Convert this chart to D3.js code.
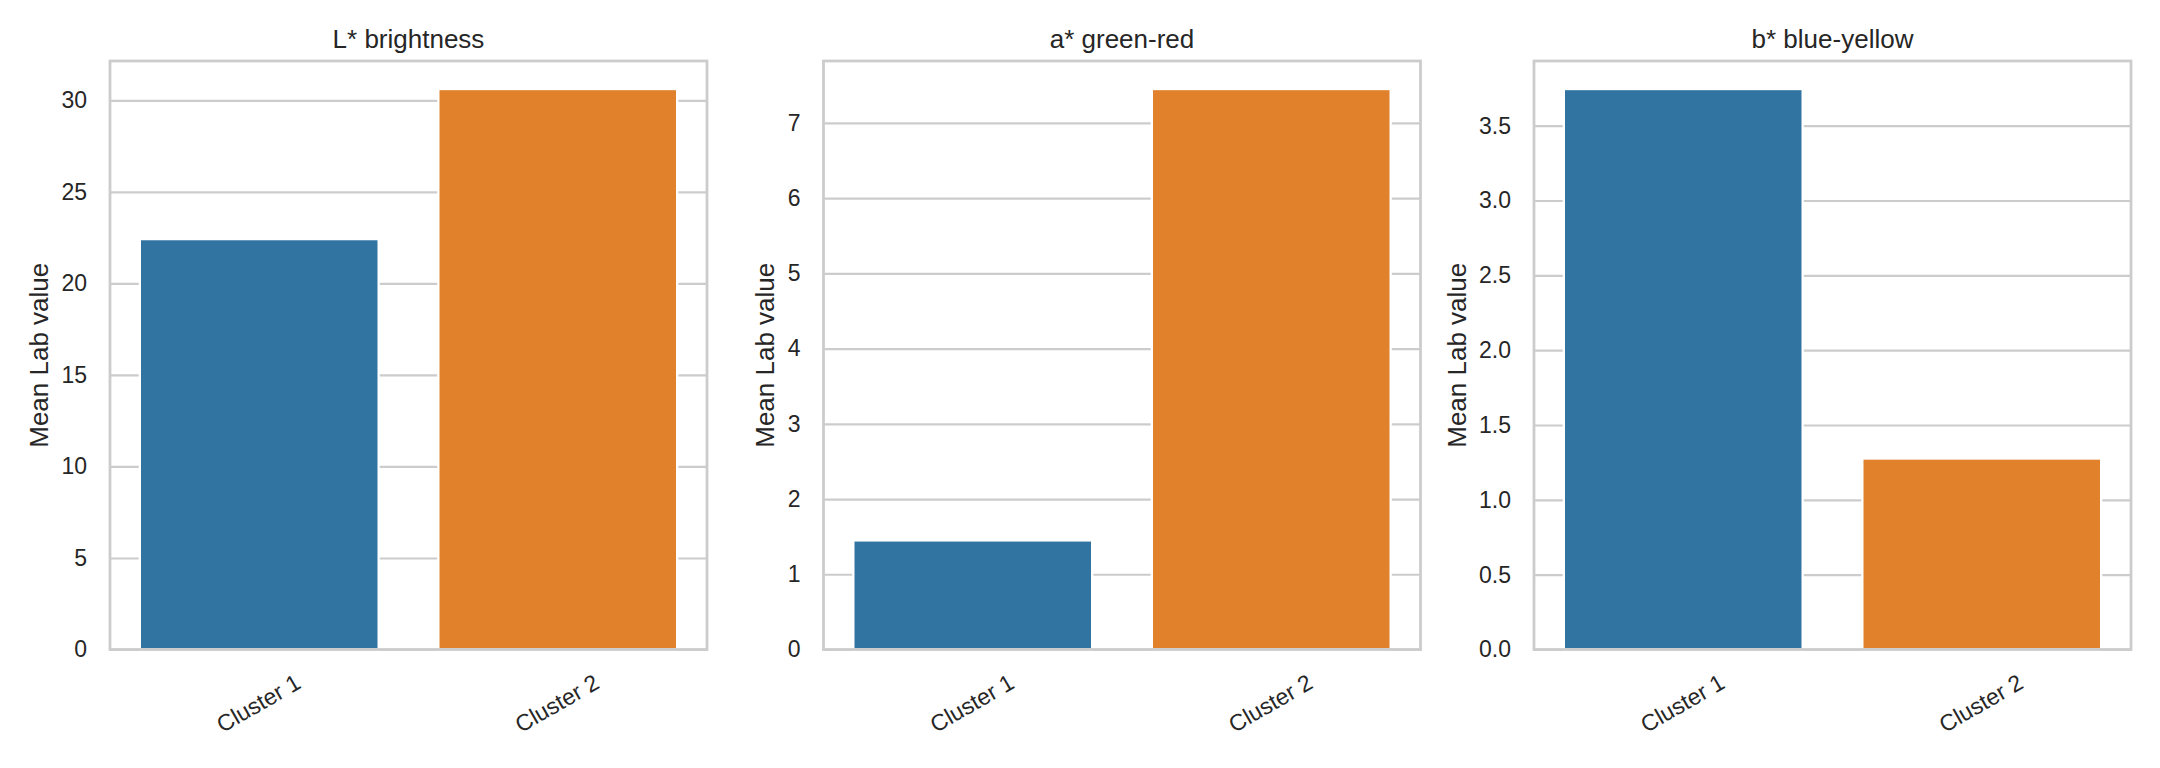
<!DOCTYPE html>
<html>
<head>
<meta charset="utf-8">
<style>
  body { margin: 0; background: #fff; }
  svg { display: block; font-family: "Liberation Sans", Arial, sans-serif; }
  .grid line { stroke: #cccccc; stroke-width: 2.2; }
  .grid text { fill: #262626; font-size: 23px; font-family: "Liberation Sans", Arial, sans-serif; }
</style>
<script src="https://cdn.jsdelivr.net/npm/d3@7"></script>
</head>
<body>
<svg id="chart"></svg>
<script>
// values
const clusters = ["Cluster 1", "Cluster 2"];
const panelTitles = ["L* brightness", "a* green-red", "b* blue-yellow"];
const lValues = [22.42, 30.62];
const aValues = [1.45, 7.45];
const bValues = [3.745, 1.276];
const lTicks = [0, 5, 10, 15, 20, 25, 30];
const aTicks = [0, 1, 2, 3, 4, 5, 6, 7];
const bTicks = [0, 0.5, 1.0, 1.5, 2.0, 2.5, 3.0, 3.5];
const barColors = ["#3274a1", "#e1812c"];
const yLabel = "Mean Lab value";

const W = 2160, H = 768;
const svg = d3.select("#chart").attr("width", W).attr("height", H);
svg.append("rect").attr("width", W).attr("height", H).attr("fill", "#fff");

const panelLeft = [110, 823.5, 1534];
const panelW = 597;
const plotTop = 61, plotBottom = 649.5;
const panelH = plotBottom - plotTop;

const panels = [
  { title: panelTitles[0], values: lValues, ticks: lTicks, fmt: d3.format("d") },
  { title: panelTitles[1], values: aValues, ticks: aTicks, fmt: d3.format("d") },
  { title: panelTitles[2], values: bValues, ticks: bTicks, fmt: d3.format(".1f") }
];

panels.forEach(function(p, i) {
  let g = svg.append("g").attr("transform", "translate(" + panelLeft[i] + "," + plotTop + ")");

  let x = d3.scaleBand().domain(clusters).range([0, panelW])
    .paddingInner(0.2).paddingOuter(0.1);
  let y = d3.scaleLinear().domain([0, d3.max(p.values) * 1.05]).range([panelH, 0]);

  // grid + y tick labels
  let grid = g.append("g").attr("class", "grid")
    .call(d3.axisLeft(y).tickValues(p.ticks).tickFormat(p.fmt)
      .tickSize(-panelW).tickPadding(23));
  grid.select(".domain").remove();

  // widest tick label, so the y label sits just left of it
  let maxTickW = 0;
  grid.selectAll("text").each(function() {
    maxTickW = Math.max(maxTickW, this.getComputedTextLength());
  });

  // bars
  g.selectAll(".bar").data(p.values).enter().append("rect")
    .attr("class", "bar")
    .attr("x", (d, j) => x(clusters[j]))
    .attr("width", x.bandwidth())
    .attr("y", d => y(d))
    .attr("height", d => y(0) - y(d))
    .attr("fill", (d, j) => barColors[j])
    .attr("stroke", "#fff")
    .attr("stroke-width", 2.3);

  // spines
  g.append("rect")
    .attr("width", panelW).attr("height", panelH)
    .attr("fill", "none").attr("stroke", "#cccccc").attr("stroke-width", 2.8);

  // x tick labels, rotated 30 degrees
  g.selectAll(".xlab").data(clusters).enter().append("text")
    .attr("class", "xlab")
    .attr("transform", d => "translate(" + (x(d) + x.bandwidth() / 2 - 1) + "," + (panelH + 53.5) + ") rotate(-30)")
    .attr("text-anchor", "middle")
    .attr("dy", "0.36em")
    .attr("fill", "#262626")
    .style("font-size", "23px")
    .text(d => d);

  // title
  g.append("text")
    .attr("x", panelW / 2).attr("y", 47.7 - plotTop)
    .attr("text-anchor", "middle")
    .attr("fill", "#262626")
    .style("font-size", "26px")
    .text(p.title);

  // y label
  let labX = -(23 + maxTickW + 13.4);
  g.append("text")
    .attr("transform", "translate(" + labX + "," + (panelH / 2) + ") rotate(-90)")
    .attr("text-anchor", "middle")
    .attr("fill", "#262626")
    .style("font-size", "26px")
    .text(yLabel);
});
</script>
</body>
</html>
